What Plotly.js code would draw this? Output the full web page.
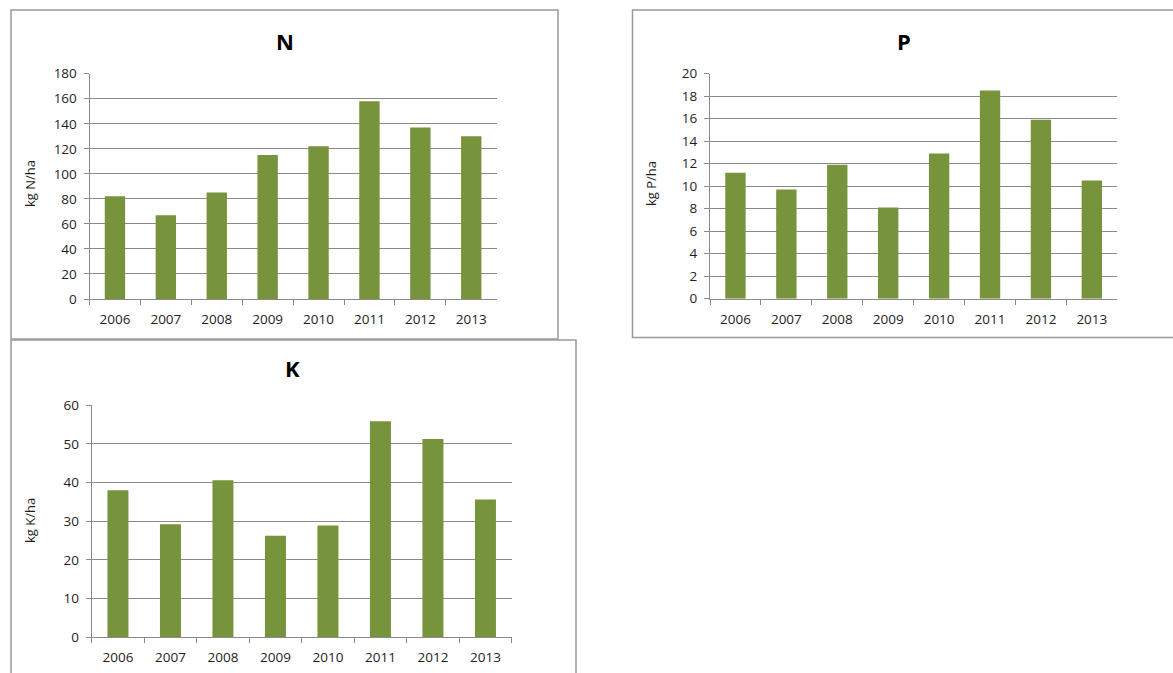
<!DOCTYPE html>
<html>
<head>
<meta charset="utf-8">
<script src="https://cdn.plot.ly/plotly-3.0.1.min.js"></script>
<style>
  html, body { margin: 0; padding: 0; background: #ffffff; }
  #chart { width: 1173px; height: 673px; }
</style>
</head>
<body>
<div id="chart"></div>
<script>
// Annual nutrient amounts per hectare, 2006-2013
const years = ['2006', '2007', '2008', '2009', '2010', '2011', '2012', '2013'];
const nitrogen = [82, 67, 85, 115, 122, 158, 137, 130];
const phosphorus = [11.2, 9.7, 11.9, 8.1, 12.9, 18.5, 15.9, 10.5];
const potassium = [38, 29.2, 40.6, 26.2, 28.9, 55.9, 51.3, 35.6];

const panelTitles = ['N', 'P', 'K'];
const unitTitles = ['kg N/ha', 'kg P/ha', 'kg K/ha'];
const yRanges = [[0, 180], [0, 20], [0, 60]];
const yTickSteps = [20, 2, 10];

const W = 1173, H = 673;
const px = x => x / W;          // pixel column -> paper x
const py = y => 1 - y / H;      // pixel row -> paper y

const BAR = '#77933c';
const GRID = '#8a8a8a';
const TEXT = '#1e1e1e';
const FONT = '"Open Sans", "Noto Sans", sans-serif';
const TICK_SIZE = 13.5;

// plot areas [left, right, top, bottom] in pixels
const areas = [
  [89.5, 496.7, 73.7, 299],
  [710, 1117.3, 73.7, 298.7],
  [91.7, 511.7, 405.3, 637]
];
// chart frames [left, right, top, bottom]
const frames = [
  [11, 558, 10, 339],
  [632.5, 1176, 10, 337.5],
  [11, 576, 340, 676]
];
const titlePos = [[284.5, 41], [904, 41], [292, 368]];
const unitPos = [[30, 184], [651, 184], [30, 521]];

const series = [nitrogen, phosphorus, potassium];

const data = series.map((vals, i) => ({
  type: 'bar',
  x: years,
  y: vals,
  xaxis: i === 0 ? 'x' : 'x' + (i + 1),
  yaxis: i === 0 ? 'y' : 'y' + (i + 1),
  marker: { color: BAR, line: { width: 0 } },
  hoverinfo: 'x+y',
  showlegend: false
}));

const layout = {
  width: W,
  height: H,
  margin: { l: 0, r: 0, t: 0, b: 0 },
  paper_bgcolor: '#ffffff',
  plot_bgcolor: '#ffffff',
  bargap: 0.6,
  font: { family: FONT, size: TICK_SIZE, color: TEXT },
  shapes: [],
  annotations: []
};

areas.forEach((a, i) => {
  const sfx = i === 0 ? '' : String(i + 1);
  layout['xaxis' + sfx] = {
    domain: [px(a[0]), px(a[1])],
    anchor: 'y' + sfx,
    type: 'category',
    tickson: 'boundaries',
    ticks: 'outside',
    ticklen: 5,
    tickcolor: GRID,
    tickwidth: 1,
    showline: true,
    linecolor: GRID,
    linewidth: 1,
    showgrid: false,
    zeroline: false,
    tickfont: { family: FONT, size: TICK_SIZE, color: TEXT },
    ticklabelstandoff: 8,
    fixedrange: true
  };
  layout['yaxis' + sfx] = {
    domain: [py(a[3]), py(a[2])],
    anchor: 'x' + sfx,
    range: yRanges[i],
    dtick: yTickSteps[i],
    tick0: 0,
    ticks: 'outside',
    ticklen: 5,
    tickcolor: GRID,
    tickwidth: 1,
    showline: true,
    linecolor: GRID,
    linewidth: 1,
    showgrid: true,
    gridcolor: GRID,
    gridwidth: 1,
    zeroline: false,
    tickfont: { family: FONT, size: TICK_SIZE, color: TEXT },
    ticklabelstandoff: 4,
    fixedrange: true
  };

  const f = frames[i];
  layout.shapes.push({
    type: 'rect', xref: 'paper', yref: 'paper',
    x0: px(f[0]), x1: px(f[1]), y0: py(f[3]), y1: py(f[2]),
    line: { color: '#9a9a9a', width: 1.5 },
    fillcolor: 'rgba(0,0,0,0)',
    layer: 'below'
  });

  layout.annotations.push({
    xref: 'paper', yref: 'paper',
    x: px(titlePos[i][0]), y: py(titlePos[i][1]),
    xanchor: 'center', yanchor: 'middle',
    text: '<b>' + panelTitles[i] + '</b>',
    showarrow: false,
    font: { family: FONT, size: 22, color: '#000000' }
  });
  layout.annotations.push({
    xref: 'paper', yref: 'paper',
    x: px(unitPos[i][0]), y: py(unitPos[i][1]),
    xanchor: 'center', yanchor: 'middle',
    textangle: -90,
    text: unitTitles[i],
    showarrow: false,
    font: { family: FONT, size: 13, color: TEXT }
  });
});

Plotly.newPlot('chart', data, layout, { displayModeBar: false, staticPlot: true });
</script>
</body>
</html>
